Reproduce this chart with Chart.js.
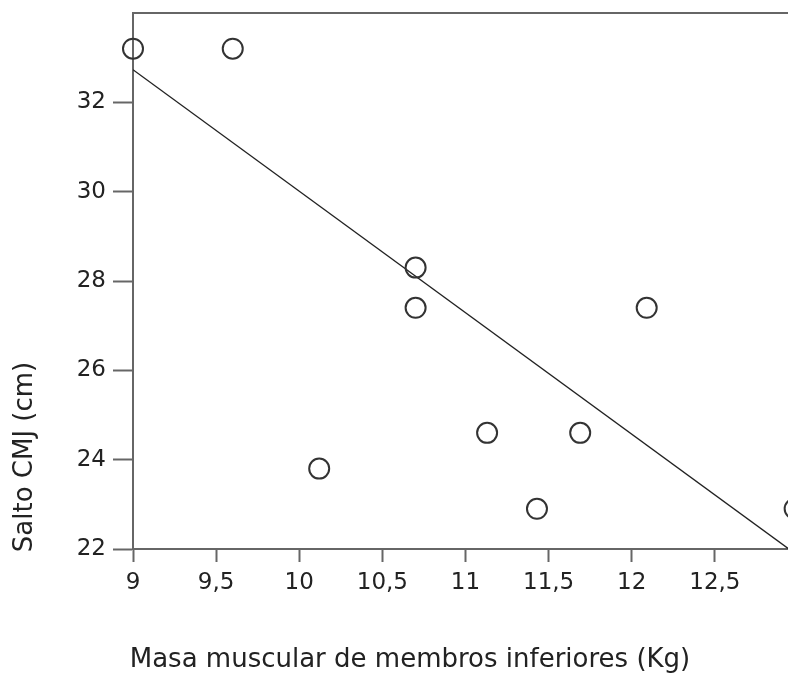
<!DOCTYPE html>
<html lang="pt">
<head>
<meta charset="UTF-8">
<title>Salto CMJ vs massa muscular</title>
<script src="https://cdn.jsdelivr.net/npm/chart.js@4.4.1/dist/chart.umd.min.js"></script>
<style>
  html, body { margin: 0; padding: 0; background: #fff; overflow: hidden; }
  #wrap { width: 788px; height: 675px; }
</style>
</head>
<body>
<div id="wrap"><canvas id="grafico"></canvas></div>
<script>
// valores
const massa = [9.0, 9.6, 10.12, 10.7, 10.7, 11.13, 11.43, 11.69, 12.09, 12.98];
const salto = [33.2, 33.2, 23.8, 28.3, 27.4, 24.6, 22.9, 24.6, 27.4, 22.9];
const retaX = [9.0, 13.0];
const retaY = [32.73, 21.85];
const ticksX = [9, 9.5, 10, 10.5, 11, 11.5, 12, 12.5];
const ticksY = [22, 24, 26, 28, 30, 32];
const tituloX = 'Masa muscular de membros inferiores (Kg)';
const tituloY = 'Salto CMJ (cm)';

const fonte = '"DejaVu Sans", Verdana, sans-serif';

const pontos = massa.map((m, i) => ({ x: m, y: salto[i] }));
const reta = retaX.map((m, i) => ({ x: m, y: retaY[i] }));

// titulos dos eixos e borda superior
const extras = {
  id: 'extras',
  afterDraw(chart) {
    const ctx = chart.ctx;
    const a = chart.chartArea;
    ctx.save();
    ctx.strokeStyle = '#666';
    ctx.lineWidth = 2;
    ctx.beginPath();
    ctx.moveTo(a.left, a.top);
    ctx.lineTo(chart.width, a.top);
    ctx.stroke();

    ctx.fillStyle = '#222';
    ctx.font = '26px ' + fonte;
    ctx.textAlign = 'center';
    ctx.textBaseline = 'middle';
    ctx.fillText(tituloX, 410, 660);
    ctx.translate(25, 457);
    ctx.rotate(-Math.PI / 2);
    ctx.fillText(tituloY, 0, 0);
    ctx.restore();
  }
};

new Chart(document.getElementById('grafico'), {
  type: 'scatter',
  data: {
    datasets: [
      {
        label: 'Salto',
        data: pontos,
        showLine: false,
        pointRadius: 10,
        pointHoverRadius: 10,
        pointBorderWidth: 2,
        pointBorderColor: '#333',
        pointBackgroundColor: 'rgba(0,0,0,0)',
        clip: false
      },
      {
        label: 'Reta',
        data: reta,
        showLine: true,
        borderColor: '#222',
        borderWidth: 1.3,
        pointRadius: 0
      }
    ]
  },
  options: {
    responsive: true,
    maintainAspectRatio: false,
    animation: false,
    layout: { autoPadding: false, padding: { top: 13, right: 0, left: 0, bottom: 0 } },
    plugins: {
      legend: { display: false },
      tooltip: { enabled: false }
    },
    scales: {
      x: {
        type: 'linear',
        min: 9,
        max: 12.94,
        afterFit: s => { s.height = 126; s.paddingLeft = 0; s.paddingRight = 0; },
        afterBuildTicks: s => { s.ticks = ticksX.map(v => ({ value: v })); },
        ticks: {
          color: '#222',
          padding: 7,
          maxRotation: 0,
          font: { family: fonte, size: 23 },
          callback: v => String(v).replace('.', ',')
        },
        grid: { drawOnChartArea: false, drawTicks: true, tickLength: 13, color: '#666', tickWidth: 2 },
        border: { display: true, color: '#666', width: 2 }
      },
      y: {
        min: 22,
        max: 34,
        afterFit: s => { s.width = 133; s.paddingTop = 0; s.paddingBottom = 0; },
        afterBuildTicks: s => { s.ticks = ticksY.map(v => ({ value: v })); },
        ticks: {
          color: '#222',
          padding: 7,
          font: { family: fonte, size: 23 }
        },
        grid: { drawOnChartArea: false, drawTicks: true, tickLength: 20, color: '#666', tickWidth: 2 },
        border: { display: true, color: '#666', width: 2 }
      }
    }
  },
  plugins: [extras]
});
</script>
</body>
</html>
